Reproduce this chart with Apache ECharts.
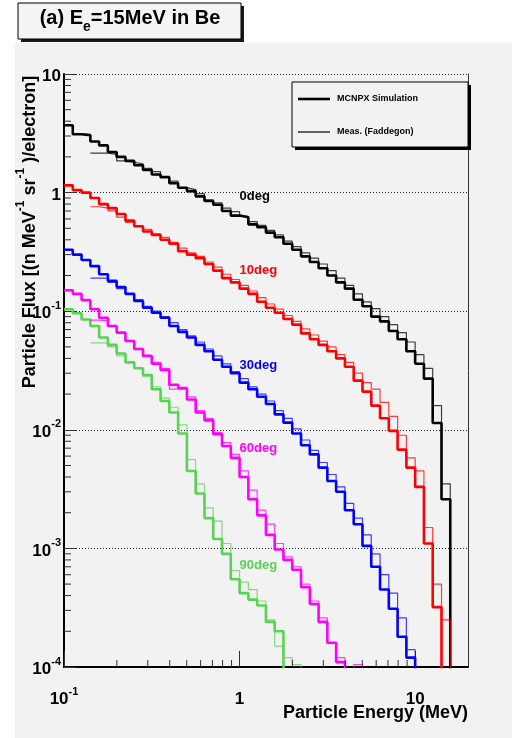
<!DOCTYPE html>
<html><head><meta charset="utf-8">
<script src="https://cdn.jsdelivr.net/npm/echarts@6/dist/echarts.min.js"></script>
<style>html,body{margin:0;padding:0;background:#fff}#c{width:512px;height:738px}</style>
</head><body><div id="c"></div>
<script>
// Bin edges (MeV), 20 per decade
const edges = [0.1,0.1122,0.1259,0.1413,0.1585,0.1778,0.1995,0.2239,0.2512,0.2818,
0.3162,0.3548,0.3981,0.4467,0.5012,0.5623,0.631,0.7079,0.7943,0.8913,
1.0,1.122,1.259,1.413,1.585,1.778,1.995,2.239,2.512,2.818,
3.162,3.548,3.981,4.467,5.012,5.623,6.31,7.079,7.943,8.913,
10.0,11.22,12.59,14.13,15.85,17.78,19.95];
const N = null;
const BELOW = 1e-6;
// MCNPX simulation (thick)
const sim0 = [3.7,3.1,3.05,2.7,2.5,2.2,2.0,1.85,1.7,1.55,1.42,1.35,1.2,1.1,1.03,0.93,0.85,0.79,0.70,0.64,
0.62,0.54,0.51,0.46,0.42,0.37,0.33,0.29,0.26,0.23,0.20,0.175,0.155,0.125,0.11,0.09,0.082,0.068,0.058,0.046,
0.036,0.027,0.0114,0.0026];
const sim10 = [1.15,1.05,1.0,0.9,0.8,0.74,0.66,0.58,0.52,0.47,0.44,0.40,0.37,0.32,0.30,0.28,0.25,0.22,0.19,0.175,
0.155,0.14,0.12,0.107,0.097,0.086,0.077,0.065,0.058,0.052,0.046,0.04,0.034,0.026,0.021,0.016,0.0125,0.0098,0.0068,0.0048,
0.0033,0.0011,0.00032];
const sim30 = [0.33,0.30,0.27,0.24,0.205,0.18,0.16,0.14,0.122,0.107,0.097,0.088,0.075,0.067,0.06,0.052,0.046,0.039,0.034,0.030,
0.025,0.022,0.019,0.0165,0.0135,0.0115,0.0093,0.0074,0.0062,0.0048,0.0037,0.0030,0.0021,0.0016,0.00105,0.0007,0.00045,0.00031,0.00018,0.00012];
const sim60 = [0.15,0.14,0.124,0.104,0.088,0.075,0.066,0.056,0.048,0.042,0.036,0.032,0.024,0.0225,0.018,0.014,0.012,0.0092,0.0073,0.0058,
0.0040,0.0026,0.0019,0.0013,0.00098,0.0008,0.00066,0.00047,0.00034,0.00024,0.00016,0.00011];
const sim90 = [0.104,0.096,0.085,0.075,0.06,0.052,0.044,0.037,0.033,0.029,0.022,0.0175,0.014,0.0093,0.0045,0.0029,0.0018,0.0012,0.0009,0.00055,
0.00042,0.00037,0.00033,0.00024,0.0002];
// Measurements (Faddegon) (thin)
const meas0 = [N,N,N,2.15,2.15,2.1,1.85,1.8,1.75,1.6,1.5,1.35,1.25,1.1,1.06,0.98,0.87,0.82,0.74,0.69,
0.63,0.57,0.53,0.48,0.44,0.39,0.35,0.31,0.28,0.25,0.22,0.19,0.165,0.14,0.12,0.105,0.09,0.077,0.066,0.055,
0.043,0.033,0.016,0.0035];
const meas10 = [N,N,N,0.76,0.74,0.7,0.62,0.56,0.52,0.49,0.45,0.42,0.38,0.34,0.31,0.29,0.26,0.235,0.205,0.185,
0.165,0.148,0.13,0.115,0.104,0.092,0.082,0.071,0.063,0.056,0.05,0.043,0.037,0.03,0.025,0.022,0.017,0.013,0.009,0.0058,
0.0045,0.0015,0.0005,0.00025];
const meas30 = [N,N,N,0.19,0.19,0.175,0.155,0.14,0.125,0.11,0.1,0.09,0.08,0.07,0.062,0.055,0.048,0.042,0.036,0.031,
0.027,0.023,0.02,0.0175,0.0145,0.0125,0.0102,0.0082,0.0067,0.0053,0.0042,0.0033,0.0024,0.0018,0.0013,0.0009,0.0006,0.00042,0.00026,0.00014];
const meas60 = [N,N,N,0.084,0.083,0.075,0.065,0.056,0.048,0.042,0.037,0.033,0.022,0.022,0.019,0.0145,0.0125,0.0095,0.0078,0.0062,
0.0045,0.0031,0.0021,0.0016,0.0011,0.00085,0.0007,0.0005,0.00036,0.00026,0.00016,0.00012,BELOW,0.000105];
const meas90 = [N,N,N,0.054,0.054,0.05,0.042,0.037,0.033,0.028,0.023,0.0185,0.0155,0.011,0.0056,0.0035,0.0022,0.0017,0.0011,0.00065,
0.00052,0.00045,0.00036,0.00025,0.00015,0.00012,0.000105];
const seriesNames = ['0deg','10deg','30deg','60deg','90deg'];
const seriesColors = ['#000000','#ff0000','#0000ff','#ff00ff','#59d354'];
const labelE = [1.0,1.0,1.0,1.0,1.0];
const labelV = [0.92,0.222,0.035,0.0070,0.00072];
const xTicks = ['10{s|-1}','1','10'];
const yTicks = ['10{s|-4}','10{s|-3}','10{s|-2}','10{s|-1}','1','10'];
const xMinor = [0.2,0.3,0.4,0.5,0.6,0.7,0.8,0.9,2,3,4,5,6,7,8,9];
const yMinor = [];
[1e-4,1e-3,1e-2,1e-1,1].forEach(d=>{for(let m=2;m<=9;m++) yMinor.push(+(d*m).toPrecision(3));});

function hist(vals){
  let first = vals.findIndex(v=>v!==null);
  let last = vals.length-1;
  const pts=[];
  for(let k=first;k<=last;k++) pts.push([edges[k], vals[k]]);
  pts.push([edges[last+1], vals[last]]);
  pts.push([edges[last+1], BELOW]);
  return pts;
}
const sims=[sim0,sim10,sim30,sim60,sim90];
const meas=[meas0,meas10,meas30,meas60,meas90];
const series=[];
sims.forEach((s,i)=>series.push({type:'line',name:'sim '+seriesNames[i],step:'end',symbol:'none',data:hist(s),
  lineStyle:{color:seriesColors[i],width:2.6},z:2,animation:false,silent:true}));
meas.forEach((s,i)=>series.push({type:'line',name:'meas '+seriesNames[i],step:'end',symbol:'none',data:hist(s),
  lineStyle:{color:seriesColors[i],width:1.2,opacity:0.75},z:3,animation:false,silent:true}));
const F='Liberation Sans';
series.push({type:'scatter',symbolSize:0,silent:true,animation:false,z:5,itemStyle:{opacity:1},
  data:seriesNames.map((n,i)=>({value:[labelE[i],labelV[i]],label:{show:true,position:'right',distance:0,formatter:n,
    color:seriesColors[i],fontSize:13,fontWeight:'bold',fontFamily:F,textBorderWidth:0,opacity:1}}))});
series.push({type:'custom',silent:true,animation:false,z:6,clip:false,
  data:xMinor.map(v=>[v,1e-4]),
  renderItem:(p,api)=>{const c=api.coord([api.value(0),1e-4]);
    return {type:'line',shape:{x1:c[0],y1:c[1],x2:c[0],y2:c[1]-7},style:{stroke:'#333',lineWidth:1}};}});
series.push({type:'custom',silent:true,animation:false,z:6,clip:false,
  data:yMinor.map(v=>[0.1,v]),
  renderItem:(p,api)=>{const c=api.coord([0.1,api.value(1)]);
    return {type:'line',shape:{x1:c[0],y1:c[1],x2:c[0]+7,y2:c[1]},style:{stroke:'#333',lineWidth:1}};}});

const rich={b:{fontSize:17,fontWeight:'bold',fontFamily:F,color:'#000',lineHeight:22,verticalAlign:'bottom'},
            s:{fontSize:11,fontWeight:'bold',fontFamily:F,color:'#000',lineHeight:11,verticalAlign:'top'}};
function tickFmt(list, lo){return v=>{const i=Math.round(Math.log10(v))-lo; const t=list[i]; if(t===undefined) return '';
  return t.replace(/^([^{]+)/,'{b|$1}');};}

const chart=echarts.init(document.getElementById('c'),null,{renderer:'canvas'});
chart.setOption({
  backgroundColor:'#ffffff',
  animation:false,
  grid:{left:64,top:74,right:44,bottom:71,show:true,backgroundColor:'#f2f2f2',borderWidth:0},
  xAxis:[{type:'log',logBase:10,min:0.1,max:20,
    axisLine:{show:true,lineStyle:{color:'#000',width:2}},
    axisTick:{show:true,inside:true,length:16,lineStyle:{color:'#333'}},
    axisLabel:{margin:19,showMaxLabel:false,formatter:tickFmt(xTicks,-1),rich:rich},
    splitLine:{show:false},minorTick:{show:false}}],
  yAxis:[{type:'log',logBase:10,min:1e-4,max:10,
    axisLine:{show:true,lineStyle:{color:'#000',width:2}},
    axisTick:{show:true,inside:true,length:12,lineStyle:{color:'#333'}},
    axisLabel:{margin:3,formatter:tickFmt(yTicks,-4),rich:rich},
    splitLine:{show:true,lineStyle:{color:'#222',type:[1,2],width:1}}},
   {type:'log',logBase:10,min:1e-4,max:10,position:'right',
    axisLine:{show:true,lineStyle:{color:'#333',width:1}},axisTick:{show:false},axisLabel:{show:false},splitLine:{show:false}}],
  series:series,
  graphic:[
    {type:'rect',shape:{x:15,y:43,width:497,height:695},style:{fill:'#f2f2f2'},z:-10,silent:true},
    {type:'rect',shape:{x:21,y:6,width:223,height:36},style:{fill:'#1a1a1a'},z:10},
    {type:'rect',shape:{x:18,y:3,width:223,height:36},style:{fill:'#f4f4f4',stroke:'#000',lineWidth:1},z:11},
    {type:'text',x:130,y:21,z:12,style:{text:'{t|(a) E}{u|e}{t|=15MeV in Be}',align:'center',verticalAlign:'middle',
      rich:{t:{fontSize:20,fontWeight:'bold',fontFamily:F,fill:'#000',lineHeight:26,verticalAlign:'top'},
            u:{fontSize:14,fontWeight:'bold',fontFamily:F,fill:'#000',lineHeight:14,verticalAlign:'bottom'}}}},
    {type:'rect',shape:{x:295,y:85,width:176,height:65},style:{fill:'#000'},z:10},
    {type:'rect',shape:{x:292,y:82,width:176,height:65},style:{fill:'#f2f2f2',stroke:'#000',lineWidth:1},z:11},
    {type:'line',shape:{x1:298,y1:99,x2:330,y2:99},style:{stroke:'#000',lineWidth:2.6},z:12},
    {type:'line',shape:{x1:298,y1:132,x2:330,y2:132},style:{stroke:'#000',lineWidth:1.2},z:12},
    {type:'text',x:337,y:99,z:12,style:{text:'MCNPX Simulation',fontSize:9,fontWeight:'bold',fontFamily:F,fill:'#000',verticalAlign:'middle'}},
    {type:'text',x:337,y:132,z:12,style:{text:'Meas. (Faddegon)',fontSize:9,fontWeight:'bold',fontFamily:F,fill:'#000',verticalAlign:'middle'}},
    {type:'text',x:468,y:713,z:12,style:{text:'Particle Energy (MeV)',fontSize:18,fontWeight:'bold',fontFamily:F,fill:'#000',align:'right',verticalAlign:'middle'}},
    {type:'text',x:27,y:232,rotation:Math.PI/2,z:12,style:{
      text:'{t|Particle Flux [(n MeV}{s|-1}{t| sr}{s|-1}{t| )/electron]}',align:'center',verticalAlign:'middle',
      rich:{t:{fontSize:18,fontWeight:'bold',fontFamily:F,fill:'#000',lineHeight:24,verticalAlign:'bottom'},
            s:{fontSize:12,fontWeight:'bold',fontFamily:F,fill:'#000',lineHeight:12,verticalAlign:'top'}}}}
  ]
});
</script></body></html>
